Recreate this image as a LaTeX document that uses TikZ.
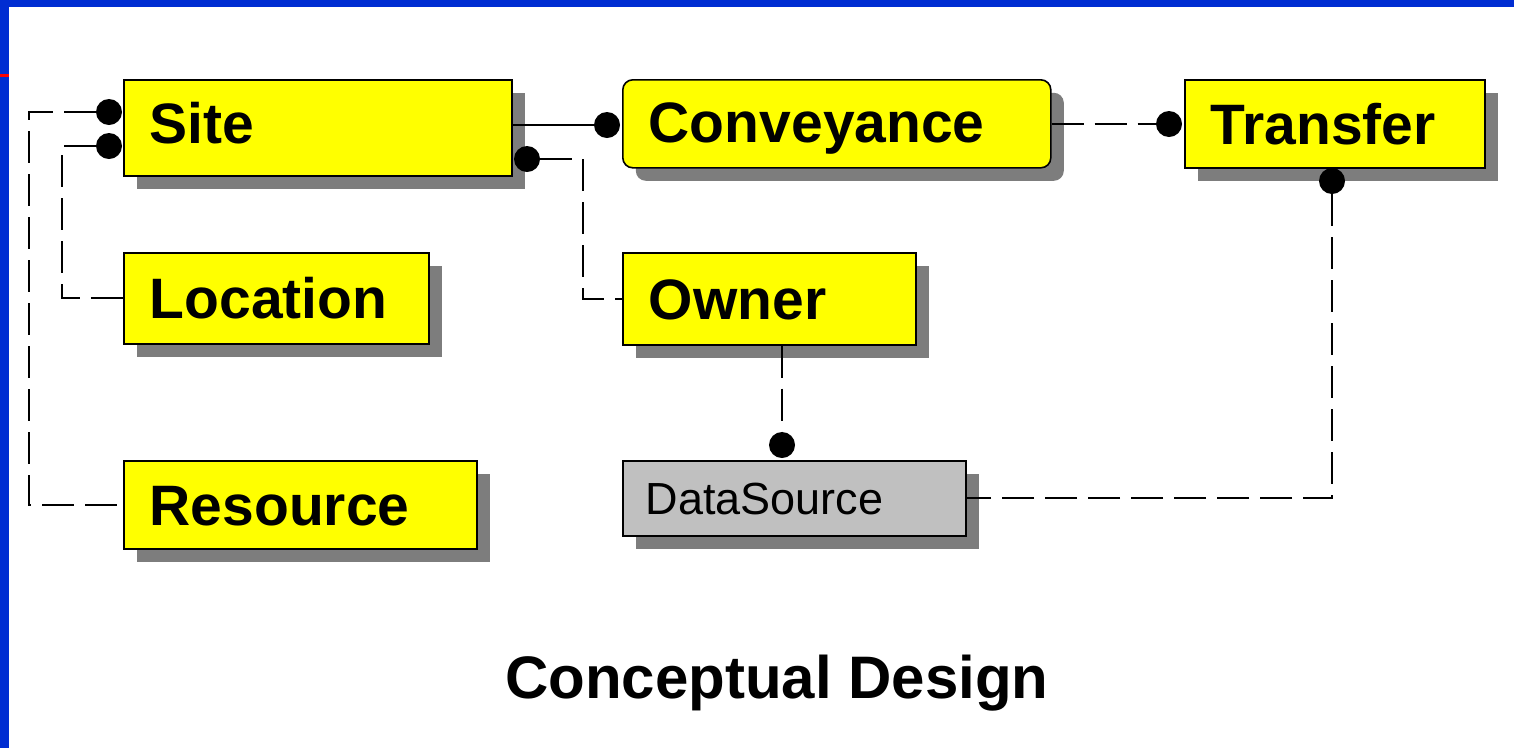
\documentclass[tikz,border=0pt]{standalone}
\usepackage{fontspec}
\setmainfont{Liberation Sans}
\usetikzlibrary{shadows}
\definecolor{frameblue}{RGB}{0,45,210}
\definecolor{entyellow}{RGB}{255,255,0}
\definecolor{entgray}{RGB}{192,192,192}
\definecolor{shadowgray}{RGB}{125,125,125}

\begin{document}
\begin{tikzpicture}[x=1pt,y=-1pt,
  boxshadow/.style={drop shadow={shadow xshift=13pt, shadow yshift=-13pt, fill=shadowgray, opacity=1}},
  entity/.style 2 args={draw=black, line width=1.6pt, fill=entyellow, anchor=north west,
    inner xsep=26pt, inner ysep=0pt, align=left, text width=#1, minimum height=#2,
    text height=41pt, text depth=0pt, font=\fontsize{57}{60}\selectfont\bfseries, boxshadow},
  minor/.style 2 args={draw=black, line width=1.6pt, fill=entgray, anchor=north west,
    inner xsep=23pt, inner ysep=0pt, align=left, text width=#1, minimum height=#2,
    text height=32pt, text depth=0pt, font=\fontsize{45}{48}\selectfont, boxshadow},
  dot/.style={circle, fill=black, inner sep=0pt, minimum size=26pt},
  conn/.style={line width=2pt},
  dconn/.style={conn, dash pattern=on 32pt off 11pt}
]
\useasboundingbox (0,0) rectangle (1514,748);
\fill[white] (0,0) rectangle (1514,748);
% slide frame
\fill[frameblue] (0,0) rectangle (1514,7);
\fill[frameblue] (0,0) rectangle (9,748);
\fill[red] (0,74) rectangle (9,77);

% entities
\node[entity={336pt}{96pt}] (Site) at (123,79) {\raisebox{5pt}{Site}};
\node[entity={376pt}{88pt}, rounded corners=10pt] (Conveyance) at (622,79) {\raisebox{2pt}{Conveyance}};
\node[entity={248pt}{88pt}] (Transfer) at (1184,79) {Transfer};
\node[entity={253pt}{91pt}] (Location) at (123,252) {Location};
\node[entity={241pt}{92pt}] (Owner) at (622,252) {Owner};
\node[entity={301pt}{88pt}] (Resource) at (123,460) {Resource};
\node[minor={297pt}{75pt}] (DataSource) at (622,460) {DataSource};

% relationship ends
\node[dot] (dSA) at (109,112) {};
\node[dot] (dSB) at (109,146) {};
\node[dot] (dSC) at (527,159) {};
\node[dot] (dCv) at (607,125) {};
\node[dot] (dTr) at (1169,124) {};
\node[dot] (dTB) at (1332,181) {};
\node[dot] (dDS) at (782,445) {};

% bends
\coordinate (cA) at (29,112);
\coordinate (cB) at (62,146);
\coordinate (cC) at (583,159);

% relationships
\draw[dconn] (dSA.west) -- (cA) |- (Resource.west);
\draw[dconn] (dSB.west) -- (cB) |- (Location.west);
\draw[dconn] (dSC.east) -- (cC) |- (Owner.west);
\draw[conn] (Site.east |- dCv) -- (dCv.west);
\draw[dconn] (Conveyance.east |- dTr) -- (dTr.west);
\draw[dconn] (dTB.south) |- (DataSource.east);
\draw[dconn] (dDS |- Owner.south) -- (dDS.north);

% caption
\node[anchor=base west, inner sep=0pt, font=\fontsize{60}{64}\selectfont\bfseries] (caption) at (505,698) {Conceptual Design};
\end{tikzpicture}
\end{document}
